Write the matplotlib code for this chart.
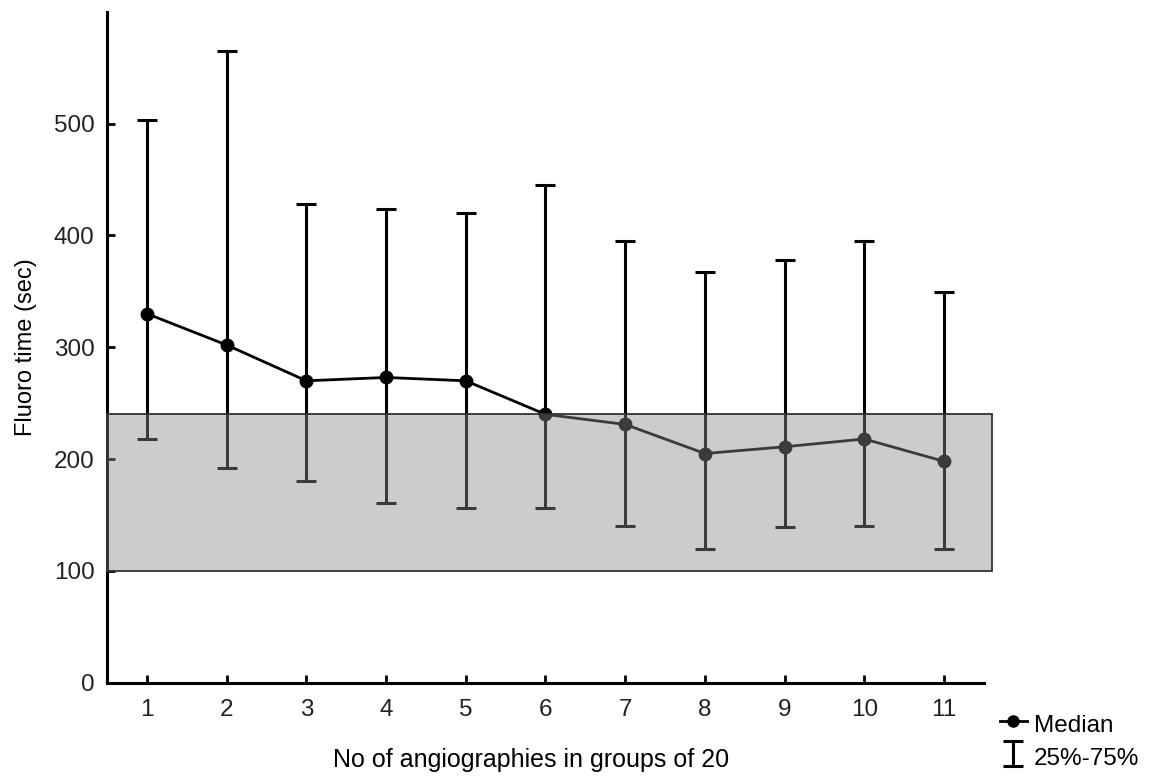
import numpy as np
import matplotlib.pyplot as plt
from matplotlib.patches import Rectangle
from matplotlib.lines import Line2D

plt.rcParams['font.family'] = ['Liberation Sans', 'DejaVu Sans']

groups = [1, 2, 3, 4, 5, 6, 7, 8, 9, 10, 11]
median = [330, 302, 270, 273, 270, 240, 231, 205, 211, 218, 198]
q25 = [218, 192, 180, 161, 156, 156, 140, 120, 139, 140, 120]
q75 = [503, 565, 428, 424, 420, 445, 395, 367, 378, 395, 349]
band_low, band_high = 100, 240

x = np.array(groups)
med = np.array(median)
lo = med - np.array(q25)
hi = np.array(q75) - med

fig = plt.figure(figsize=(11.52, 7.83), dpi=100)
ax = fig.add_axes([0.093, 0.128, 0.761, 0.857])

eb = ax.errorbar(x, med, yerr=[lo, hi], fmt='none', ecolor='black',
                 elinewidth=2.2, capsize=7, capthick=2.2, zorder=2)
ax.plot(x, med, color='black', lw=2, marker='o', ms=9, zorder=3)

# translucent grey band drawn over the marks
ax.add_patch(Rectangle((0.5, band_low), 11.1, band_high - band_low,
                       facecolor='#8a8a8a', alpha=0.43, edgecolor='none',
                       zorder=4, clip_on=False))
ax.add_patch(Rectangle((0.5, band_low), 11.1, band_high - band_low,
                       facecolor='none', edgecolor='#333333', lw=1.3,
                       zorder=5, clip_on=False))

ax.set_xlim(0.5, 11.5)
ax.set_ylim(0, 600)
ax.set_xticks(groups)
ax.set_yticks([0, 100, 200, 300, 400, 500])
ax.tick_params(direction='in', length=6, width=2, labelsize=17.5,
               colors='black', labelcolor='#222222')
ax.tick_params(axis='x', pad=12)
ax.tick_params(axis='y', pad=9)
for s in ['top', 'right']:
    ax.spines[s].set_visible(False)
for s in ['left', 'bottom']:
    ax.spines[s].set_linewidth(2.2)

ax.set_xlabel('No of angiographies in groups of 20', fontsize=18)
ax.xaxis.set_label_coords(0.484, -0.097)
ax.set_ylabel('Fluoro time (sec)', fontsize=17, labelpad=12)

h_med = Line2D([], [], color='black', lw=2, marker='o', ms=8)
fig.legend([h_med, eb], ['Median', '25%-75%'], loc='lower left',
           bbox_to_anchor=(0.849, -0.012), frameon=False, fontsize=17.5,
           handlelength=1.1, handleheight=1.4, handletextpad=0.3,
           labelspacing=0.2)

plt.savefig('out.png', dpi=100)
